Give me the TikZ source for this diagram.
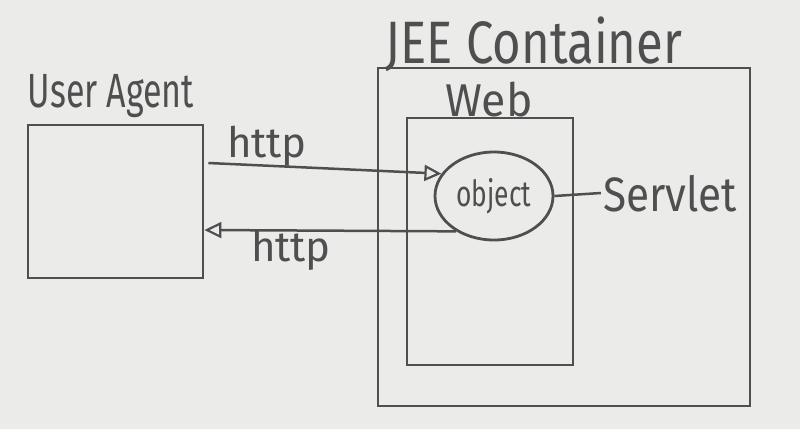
\documentclass[tikz,border=0pt]{standalone}
\usepackage{fontspec}
\setmainfont{Fira Sans}
\usetikzlibrary{shapes.geometric,arrows.meta,calc}
\definecolor{paper}{HTML}{EBEBEA}
\definecolor{ink}{HTML}{4F4F4F}
\tikzset{
  box/.style={draw=ink, line width=2.8pt, rectangle, inner sep=0pt},
  lbl/.style={text=ink, inner sep=0pt, anchor=center},
  conn/.style={draw=ink, line width=2.5pt},
  arr/.style={conn, -{Triangle[open, length=17pt, width=16pt, line width=2.2pt]}}
}
\begin{document}
\begin{tikzpicture}[x=1pt,y=-1pt]
\useasboundingbox[fill=paper] (0,0) rectangle (800,429);
% boxes
\node[box, minimum width=175pt, minimum height=153pt] (ua) at (115.5,201.5) {};
\node[box, minimum width=372pt, minimum height=338pt] (jee) at (564,237) {};
\node[box, minimum width=166pt, minimum height=247pt] (web) at (490,241.5) {};
\node[draw=ink, line width=2.8pt, ellipse, minimum width=118pt, minimum height=88pt, inner sep=0pt, fill=paper] (obj) at (494,196) {};
\node[lbl, font=\fontsize{30}{36}\selectfont] at (obj) {\scalebox{0.88}[1.2]{object}};
% labels
\node[lbl, font=\fontsize{40}{48}\selectfont] (ualbl) at (111,96) {\scalebox{0.85}[1.2]{User Agent}};
\node[lbl, font=\fontsize{57}{66}\selectfont] (jeelbl) at (534,44) {\scalebox{0.86}[1.05]{JEE Container}};
\node[lbl, font=\fontsize{46}{52}\selectfont] (weblbl) at (489,100) {\scalebox{0.97}[1.0]{Web}};
\node[lbl, font=\fontsize{46}{52}\selectfont] (servlet) at (670,194) {\scalebox{0.92}[1.05]{Servlet}};
\node[lbl, font=\fontsize{42}{48}\selectfont] (http1) at (267,146) {http};
\node[lbl, font=\fontsize{42}{48}\selectfont] (http2) at (291,250) {http};
% connectors
\draw[arr] ($(ua.east)+(4,-38.5)$) -- (obj.157);
\draw[arr] (obj.223) -- ($(ua.east)+(0,28.5)$);
\draw[conn] (obj.east) -- ($(servlet.west)+(-2,-1)$);
\end{tikzpicture}
\end{document}
